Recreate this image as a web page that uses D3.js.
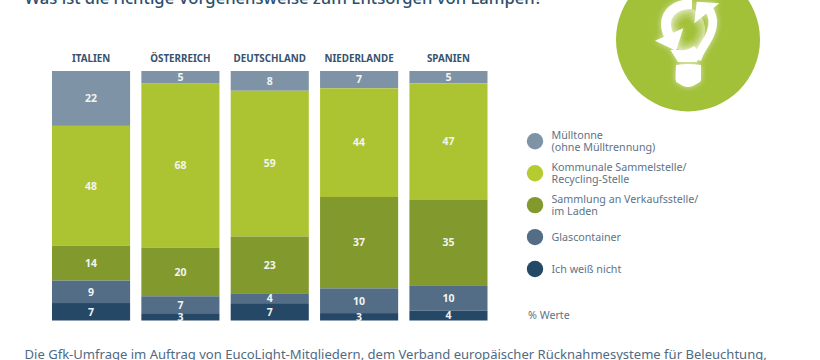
<!DOCTYPE html>
<html>
<head>
<meta charset="utf-8">
<script src="https://cdn.jsdelivr.net/npm/d3@7"></script>
<style>
  html, body { margin: 0; padding: 0; background: #fff; overflow: hidden; }
  svg { display: block; font-family: "Noto Sans", sans-serif; }
</style>
</head>
<body>
<script>
var countries = ["ITALIEN", "ÖSTERREICH", "DEUTSCHLAND", "NIEDERLANDE", "SPANIEN"];
var muelltonne = [22, 5, 8, 7, 5];
var sammelstelle = [48, 68, 59, 44, 47];
var verkaufsstelle = [14, 20, 23, 37, 35];
var glascontainer = [9, 7, 4, 10, 10];
var weissNicht = [7, 3, 7, 3, 4];
var seriesValues = [muelltonne, sammelstelle, verkaufsstelle, glascontainer, weissNicht];
var seriesColors = ["#7f93a6", "#adc432", "#82992d", "#536d87", "#254867"];
var legendColors = ["#7f93a6", "#b5cb2f", "#82992d", "#536d87", "#254867"];
var legendLabels = [
  ["Mülltonne", "(ohne Mülltrennung)"],
  ["Kommunale Sammelstelle/", "Recycling-Stelle"],
  ["Sammlung an Verkaufsstelle/", "im Laden"],
  ["Glascontainer"],
  ["Ich weiß nicht"]
];
var titleText = "Was ist die richtige Vorgehensweise zum Entsorgen von Lampen?";
var footText = "Die Gfk-Umfrage im Auftrag von EucoLight-Mitgliedern, dem Verband europäischer Rücknahmesysteme für Beleuchtung,";

var svg = d3.select("body").append("svg").attr("width", 820).attr("height", 360);

svg.append("text").attr("x", 24.5).attr("y", 4)
    .attr("font-size", 16.6).attr("font-weight", 500).attr("fill", "#2c4f6e").text(titleText);

svg.append("text").attr("x", 24.5).attr("y", 358.5)
    .attr("font-size", 13.05).attr("fill", "#4f6a83").text(footText);

// each column fills the whole height, the percentages do not always sum to 100
var table = countries.map(function (c, i) {
  var row = { country: c };
  seriesValues.forEach(function (s, j) { row[j] = s[i]; });
  return row;
});
var stack = d3.stack().keys(d3.range(seriesValues.length))
    .order(d3.stackOrderNone).offset(d3.stackOffsetExpand);

var x = d3.scaleBand().domain(countries).range([52, 487.5]).paddingInner(0.126);
var y = d3.scaleLinear().domain([0, 1]).range([71, 320.5]);

svg.append("g").selectAll("text")
    .data(countries)
    .enter().append("text")
    .attr("x", function (d) { return x(d) + x.bandwidth() / 2; })
    .attr("y", 62)
    .attr("text-anchor", "middle")
    .attr("font-size", 9.8)
    .attr("font-weight", 700)
    .attr("fill", "#35536f")
    .text(function (d) { return d; });

var layers = svg.append("g").selectAll("g")
    .data(stack(table))
    .enter().append("g");

layers.selectAll("rect")
    .data(function (d) { return d; })
    .enter().append("rect")
    .attr("x", function (d) { return x(d.data.country); })
    .attr("y", function (d) { return y(d[0]); })
    .attr("width", x.bandwidth())
    .attr("height", function (d) { return y(d[1]) - y(d[0]); })
    .attr("fill", function () { return seriesColors[d3.select(this.parentNode).datum().key]; });

layers.selectAll("text")
    .data(function (d) { return d.map(function (p) { return { p: p, key: d.key }; }); })
    .enter().append("text")
    .attr("x", function (d) { return x(d.p.data.country) + x.bandwidth() / 2; })
    .attr("y", function (d) { return (y(d.p[0]) + y(d.p[1])) / 2 + 3.8; })
    .attr("text-anchor", "middle")
    .attr("font-size", 10.5)
    .attr("font-weight", 700)
    .attr("fill", "#f2f4f0")
    .text(function (d) { return d.p.data[d.key]; });

// legend
var legendY = d3.scalePoint().domain(d3.range(legendLabels.length)).range([141.3, 269]);
var legend = svg.append("g").selectAll("g")
    .data(legendLabels)
    .enter().append("g")
    .attr("transform", function (d, i) { return "translate(535," + legendY(i) + ")"; });

legend.append("circle").attr("r", 8.2)
    .attr("fill", function (d, i) { return legendColors[i]; });

legend.selectAll("text")
    .data(function (d) { return d; })
    .enter().append("text")
    .attr("x", 16.5)
    .attr("y", function (d, i) {
      var lines = d3.select(this.parentNode).datum().length;
      return lines == 1 ? 4 : -2.4 + i * 12;
    })
    .attr("font-size", 10.7)
    .attr("fill", "#5d7388")
    .text(function (d) { return d; });

svg.append("text").attr("x", 528).attr("y", 319)
    .attr("font-size", 10.7).attr("fill", "#5d7388").text("% Werte");

// lamp icon
var defs = svg.append("defs");
defs.append("filter").attr("id", "glow").attr("x", "-40%").attr("y", "-40%")
    .attr("width", "180%").attr("height", "180%")
    .append("feGaussianBlur").attr("stdDeviation", 3);
defs.append("filter").attr("id", "soft")
    .append("feGaussianBlur").attr("stdDeviation", 0.4);
var inner = defs.append("radialGradient").attr("id", "innerGlow");
inner.append("stop").attr("offset", "40%").attr("stop-color", "#a2c038");
inner.append("stop").attr("offset", "100%").attr("stop-color", "#cfdd96");

var arcs = [
  { d: "M692,4C674,4 666,14 666,24C666,30 668,35 671,39", w: 10 },
  { d: "M708,8C713,15 714,24 711,32C708,42 699,50 697,60", w: 8.5 }
];
var shapes = [
  "M655,40.700L683.300,28.300L676,50.700Z",
  "M719.300,3.300L696.700,1.700L694.300,23.300Z",
  "M670.500,50L678,62H697L700,52L694,46Q688,51 679,50Z",
  "M676,65Q688,63 701,65V79Q701,82 698,83L693,86Q688,88 683,86L678,83Q675.500,82 675.500,79Z"
];

function drawLamp(g) {
  g.selectAll("path.arc").data(arcs).enter().append("path")
      .attr("class", "arc").attr("d", function (d) { return d.d; })
      .attr("fill", "none").attr("stroke", "#fff")
      .attr("stroke-width", function (d) { return d.w; });
  g.selectAll("path.shape").data(shapes).enter().append("path")
      .attr("class", "shape").attr("d", function (d) { return d; }).attr("fill", "#fff");
}

var lamp = svg.append("g");
lamp.append("circle").attr("cx", 688).attr("cy", 39.5).attr("r", 72).attr("fill", "#a2c038");
lamp.append("ellipse").attr("cx", 687).attr("cy", 30).attr("rx", 18).attr("ry", 22)
    .attr("fill", "url(#innerGlow)");
drawLamp(lamp.append("g").attr("filter", "url(#glow)").attr("opacity", 0.6));
drawLamp(lamp.append("g").attr("filter", "url(#soft)"));
</script>
</body>
</html>
